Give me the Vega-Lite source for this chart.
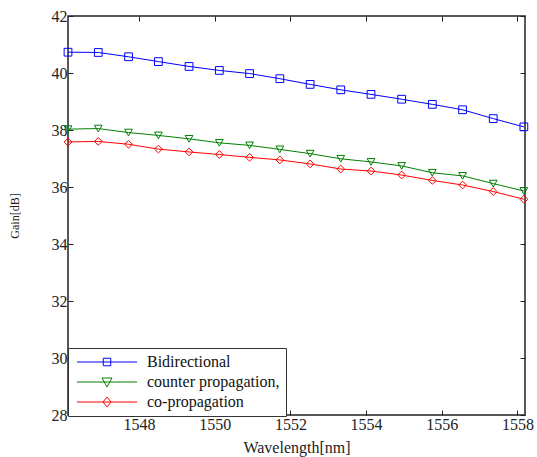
{
  "$schema": "https://vega.github.io/schema/vega-lite/v6.json",
  "width": 457,
  "height": 399,
  "autosize": "none",
  "padding": {"left": 68, "top": 16, "right": 12, "bottom": 42},
  "background": "white",
  "data": {
    "values": [
      {"wl": 1546.12, "gain": 40.73, "series": "Bidirectional"},
      {"wl": 1546.92, "gain": 40.72, "series": "Bidirectional"},
      {"wl": 1547.72, "gain": 40.57, "series": "Bidirectional"},
      {"wl": 1548.51, "gain": 40.40, "series": "Bidirectional"},
      {"wl": 1549.32, "gain": 40.23, "series": "Bidirectional"},
      {"wl": 1550.12, "gain": 40.09, "series": "Bidirectional"},
      {"wl": 1550.92, "gain": 39.98, "series": "Bidirectional"},
      {"wl": 1551.72, "gain": 39.80, "series": "Bidirectional"},
      {"wl": 1552.52, "gain": 39.60, "series": "Bidirectional"},
      {"wl": 1553.33, "gain": 39.41, "series": "Bidirectional"},
      {"wl": 1554.13, "gain": 39.25, "series": "Bidirectional"},
      {"wl": 1554.94, "gain": 39.08, "series": "Bidirectional"},
      {"wl": 1555.75, "gain": 38.90, "series": "Bidirectional"},
      {"wl": 1556.55, "gain": 38.71, "series": "Bidirectional"},
      {"wl": 1557.36, "gain": 38.40, "series": "Bidirectional"},
      {"wl": 1558.17, "gain": 38.11, "series": "Bidirectional"},
      {"wl": 1546.12, "gain": 38.03, "series": "counter propagation,"},
      {"wl": 1546.92, "gain": 38.05, "series": "counter propagation,"},
      {"wl": 1547.72, "gain": 37.91, "series": "counter propagation,"},
      {"wl": 1548.51, "gain": 37.81, "series": "counter propagation,"},
      {"wl": 1549.32, "gain": 37.69, "series": "counter propagation,"},
      {"wl": 1550.12, "gain": 37.55, "series": "counter propagation,"},
      {"wl": 1550.92, "gain": 37.46, "series": "counter propagation,"},
      {"wl": 1551.72, "gain": 37.32, "series": "counter propagation,"},
      {"wl": 1552.52, "gain": 37.17, "series": "counter propagation,"},
      {"wl": 1553.33, "gain": 36.99, "series": "counter propagation,"},
      {"wl": 1554.13, "gain": 36.88, "series": "counter propagation,"},
      {"wl": 1554.94, "gain": 36.74, "series": "counter propagation,"},
      {"wl": 1555.75, "gain": 36.50, "series": "counter propagation,"},
      {"wl": 1556.55, "gain": 36.39, "series": "counter propagation,"},
      {"wl": 1557.36, "gain": 36.12, "series": "counter propagation,"},
      {"wl": 1558.17, "gain": 35.86, "series": "counter propagation,"},
      {"wl": 1546.12, "gain": 37.58, "series": "co-propagation"},
      {"wl": 1546.92, "gain": 37.60, "series": "co-propagation"},
      {"wl": 1547.72, "gain": 37.50, "series": "co-propagation"},
      {"wl": 1548.51, "gain": 37.33, "series": "co-propagation"},
      {"wl": 1549.32, "gain": 37.23, "series": "co-propagation"},
      {"wl": 1550.12, "gain": 37.14, "series": "co-propagation"},
      {"wl": 1550.92, "gain": 37.04, "series": "co-propagation"},
      {"wl": 1551.72, "gain": 36.95, "series": "co-propagation"},
      {"wl": 1552.52, "gain": 36.81, "series": "co-propagation"},
      {"wl": 1553.33, "gain": 36.63, "series": "co-propagation"},
      {"wl": 1554.13, "gain": 36.56, "series": "co-propagation"},
      {"wl": 1554.94, "gain": 36.42, "series": "co-propagation"},
      {"wl": 1555.75, "gain": 36.23, "series": "co-propagation"},
      {"wl": 1556.55, "gain": 36.07, "series": "co-propagation"},
      {"wl": 1557.36, "gain": 35.84, "series": "co-propagation"},
      {"wl": 1558.17, "gain": 35.57, "series": "co-propagation"}
    ]
  },
  "layer": [
    {
      "mark": {"type": "line", "strokeWidth": 1, "clip": true},
      "encoding": {
        "x": {"field": "wl", "type": "quantitative", "scale": {"domain": [1546.12, 1558.2], "nice": false, "zero": false},
              "axis": {"title": "Wavelength[nm]", "values": [1548, 1550, 1552, 1554, 1556, 1558], "format": "d", "labelPadding": 6, "titlePadding": 7}},
        "y": {"field": "gain", "type": "quantitative", "scale": {"domain": [28, 42], "nice": false, "zero": false},
              "axis": {"title": "Gain[dB]", "titleFontSize": 12, "values": [28, 30, 32, 34, 36, 38, 40, 42], "labelPadding": 6, "titlePadding": 30}},
        "color": {"field": "series", "type": "nominal",
                  "scale": {"domain": ["Bidirectional", "counter propagation,", "co-propagation"], "range": ["#0000ff", "#008000", "#ff0000"]},
                  "legend": {
                    "title": null, "orient": "none", "legendX": 0, "legendY": 332,
                    "labelFont": "Liberation Serif", "labelFontSize": 16, "labelColor": "#111111",
                    "strokeColor": "#333333", "fillColor": "white", "padding": 6,
                    "symbolSize": 100, "symbolStrokeWidth": 1, "rowPadding": 4, "labelOffset": 57,
                    "encode": {"symbols": {"update": {
                      "strokeWidth": {"value": 1},
                      "fill": {"value": "transparent"},
                      "shape": {"signal": "datum.value === 'Bidirectional' ? 'M-1,0H11M4.25,-0.75H5.75V0.75H4.25Z' : datum.value === 'co-propagation' ? 'M-1,0H11M5,-1L5.8,0L5,1L4.2,0Z' : 'M-1,0H11M4,-0.8H6L5,1Z'"}
                    }}}
                  }}
      }
    },
    {
      "transform": [{"filter": "datum.series === 'Bidirectional'"}],
      "mark": {"type": "point", "shape": "square", "filled": false, "strokeWidth": 1, "size": 60, "opacity": 1},
      "encoding": {
        "x": {"field": "wl", "type": "quantitative", "axis": {"orient": "top", "labels": false, "title": null, "values": [1548, 1550, 1552, 1554, 1556, 1558]}},
        "y": {"field": "gain", "type": "quantitative", "axis": {"orient": "right", "labels": false, "title": null, "values": [28, 30, 32, 34, 36, 38, 40, 42]}},
        "color": {"field": "series", "type": "nominal"}
      }
    },
    {
      "transform": [{"filter": "datum.series === 'counter propagation,'"}],
      "mark": {"type": "point", "shape": "triangle-down", "filled": false, "strokeWidth": 1, "size": 60, "opacity": 1},
      "encoding": {
        "x": {"field": "wl", "type": "quantitative", "axis": null},
        "y": {"field": "gain", "type": "quantitative", "axis": null},
        "color": {"field": "series", "type": "nominal"}
      }
    },
    {
      "transform": [{"filter": "datum.series === 'co-propagation'"}],
      "mark": {"type": "point", "shape": "diamond", "filled": false, "strokeWidth": 1, "size": 60, "opacity": 1},
      "encoding": {
        "x": {"field": "wl", "type": "quantitative", "axis": null},
        "y": {"field": "gain", "type": "quantitative", "axis": null},
        "color": {"field": "series", "type": "nominal"}
      }
    }
  ],
  "resolve": {"axis": {"x": "independent", "y": "independent"}},
  "config": {
    "view": {"stroke": "#222222", "strokeWidth": 1.5},
    "font": "Liberation Serif",
    "axis": {"grid": false, "domain": false, "tickColor": "#222222", "tickSize": -5, "labelFont": "Liberation Serif", "titleFont": "Liberation Serif", "labelColor": "#222222", "titleColor": "#222222", "titleFontWeight": "normal", "labelFontSize": 16, "titleFontSize": 16}
  }
}
